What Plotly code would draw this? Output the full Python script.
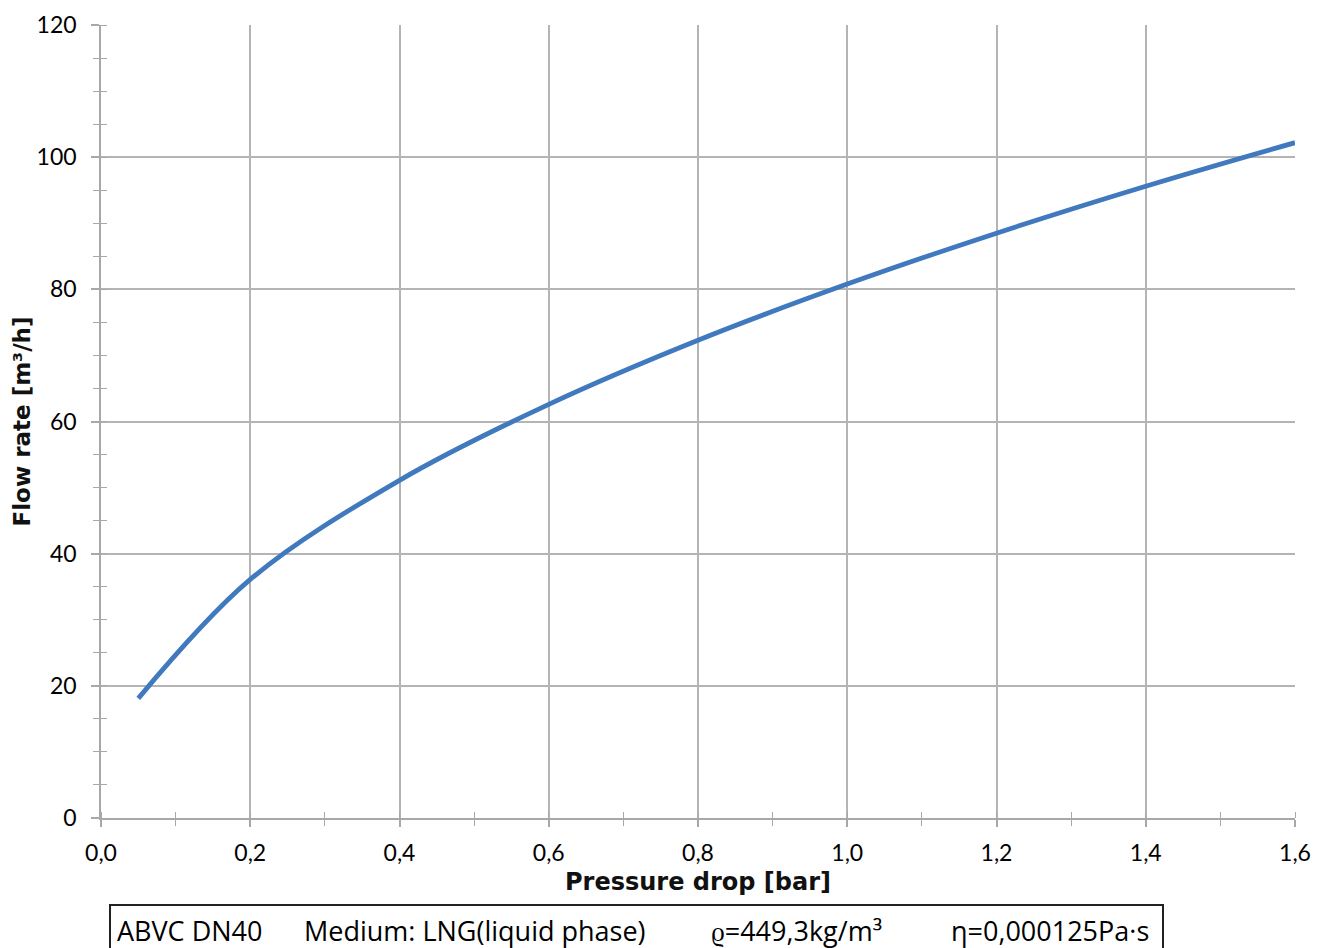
import plotly.graph_objects as go

pressure_drop = [0.05, 0.2, 0.4, 0.6, 0.8, 1.0, 1.2, 1.4, 1.6]
flow_rate = [18.1, 36.1, 51.1, 62.6, 72.3, 80.8, 88.5, 95.6, 102.2]

x_ticks = [0.0, 0.2, 0.4, 0.6, 0.8, 1.0, 1.2, 1.4, 1.6]
y_ticks = [0, 20, 40, 60, 80, 100, 120]

info_texts = ["ABVC DN40", "Medium: LNG(liquid phase)", "ϱ=449,3kg/m³", "η=0,000125Pa·s"]

W, H = 1317, 948
ML, MR, MT, MB = 101, 22, 25, 130
PW, PH = W - ML - MR, H - MT - MB

def px(x):
    return (x - ML) / PW

def py(y):
    return (H - MB - y) / PH

GRID = "#b4b4b4"
AXIS = "#a8a8a8"
TICKFONT = dict(family="Lato", size=23, color="#000")

fig = go.Figure()
fig.add_trace(go.Scatter(
    x=pressure_drop, y=flow_rate, mode="lines",
    line=dict(color="#4179be", width=4.8, shape="spline", smoothing=1.0),
    showlegend=False, hoverinfo="skip",
))
fig.add_trace(go.Scatter(x=[None], y=[None], xaxis="x2", yaxis="y2",
                         showlegend=False, hoverinfo="skip"))

fig.update_layout(
    width=W, height=H,
    margin=dict(l=ML, r=MR, t=MT, b=MB),
    paper_bgcolor="white", plot_bgcolor="white",
    separators=", ",
    xaxis=dict(
        range=[0, 1.6], tickvals=x_ticks, tickformat=".1f", automargin=False,
        showgrid=True, gridcolor=GRID, gridwidth=1.6,
        showline=True, linecolor=AXIS, linewidth=1.6,
        mirror=False, zeroline=False,
        ticks="outside", ticklen=7, tickcolor=AXIS, tickwidth=1.6,
        minor=dict(ticks="outside", ticklen=6, tickcolor=AXIS, tickwidth=1.4, dtick=0.1, showgrid=False),
        tickfont=TICKFONT, ticklabelstandoff=7,
        title=dict(text="<b>Pressure drop [bar]</b>", font=dict(family="DejaVu Sans", size=24, color="#111"), standoff=8),
    ),
    yaxis=dict(
        range=[0, 120], tickvals=y_ticks, automargin=False,
        showgrid=True, gridcolor=GRID, gridwidth=1.6,
        showline=True, linecolor=AXIS, linewidth=1.6, zeroline=False,
        ticks="outside", ticklen=8, tickcolor=AXIS, tickwidth=1.6,
        minor=dict(ticks="outside", ticklen=6, tickcolor=AXIS, tickwidth=1.4, dtick=5, showgrid=False),
        tickfont=TICKFONT, ticklabelstandoff=10,
        title=dict(text="<b>Flow rate [m³/h]</b>", font=dict(family="DejaVu Sans", size=23, color="#111"), standoff=0),
    ),
    xaxis2=dict(
        overlaying="x", anchor="y", side="bottom", range=[0, 1.6], automargin=False,
        showgrid=False, showline=False, zeroline=False, showticklabels=False,
        tickvals=x_ticks, ticks="",
        minor=dict(ticks="inside", ticklen=6, tickcolor=AXIS, tickwidth=1.4, dtick=0.1, showgrid=False),
    ),
    yaxis2=dict(
        overlaying="y", anchor="x", side="left", range=[0, 120], automargin=False,
        showgrid=False, showline=False, zeroline=False, showticklabels=False,
        tickvals=y_ticks, ticks="",
        minor=dict(ticks="inside", ticklen=6, tickcolor=AXIS, tickwidth=1.4, dtick=5, showgrid=False),
    ),
)

# info box
fig.add_shape(type="rect", xref="paper", yref="paper",
              x0=px(110), x1=px(1163), y0=py(905), y1=py(960),
              line=dict(color="#222", width=2), fillcolor="rgba(0,0,0,0)")
for txt, xl in zip(info_texts, [115, 302, 709, 949]):
    fig.add_annotation(text=txt, xref="paper", yref="paper", x=px(xl), y=py(930),
                       xanchor="left", yanchor="middle", showarrow=False,
                       font=dict(family="Open Sans", size=27, color="#000"))

fig.write_html("out.html")
